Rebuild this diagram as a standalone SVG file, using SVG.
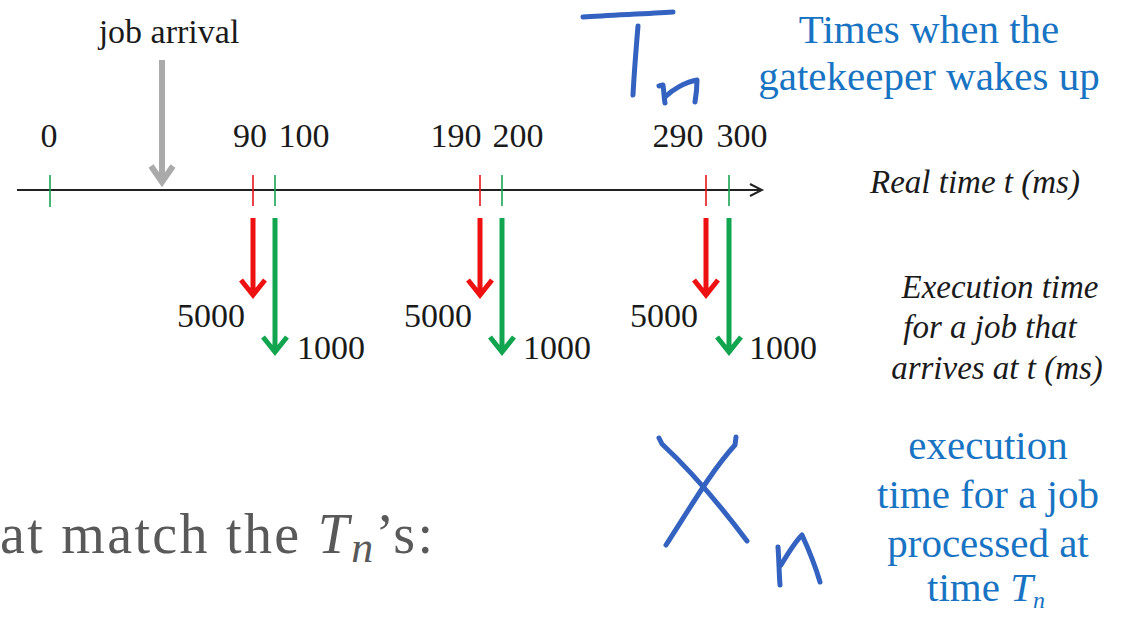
<svg xmlns="http://www.w3.org/2000/svg" width="1128" height="618" viewBox="0 0 1128 618">
<style>
.num{font-family:"Liberation Serif",serif;font-size:34px;fill:#1a1a1a}
.it{font-family:"Liberation Serif",serif;font-size:33px;font-style:italic;fill:#1a1a1a}
.blue{font-family:"Liberation Serif",serif;font-size:41px;fill:#1874c3}
.ink{fill:none;stroke:#3462c0;stroke-width:5;stroke-linecap:round;stroke-linejoin:round}
.tr{stroke:#e8141b;stroke-width:1.6}
.tg{stroke:#1aa352;stroke-width:1.6}
.ar{fill:none;stroke:#ee1111;stroke-width:5;stroke-linejoin:miter}
.ag{fill:none;stroke:#12a550;stroke-width:5;stroke-linejoin:miter}
</style>
<rect width="1128" height="618" fill="#ffffff"/>
<g id="axis">
<line x1="17" y1="190" x2="762" y2="190" stroke="#222" stroke-width="2"/>
<path d="M750,184 L762,190 L750,196" fill="none" stroke="#222" stroke-width="2"/>
</g>
<g id="ticks">
<line class="tg" x1="50" y1="175" x2="50" y2="207"/>
<line class="tr" x1="253" y1="175" x2="253" y2="206"/>
<line class="tg" x1="275" y1="175" x2="275" y2="206"/>
<line class="tr" x1="480" y1="175" x2="480" y2="206"/>
<line class="tg" x1="502" y1="175" x2="502" y2="206"/>
<line class="tr" x1="706" y1="175" x2="706" y2="206"/>
<line class="tg" x1="729" y1="175" x2="729" y2="206"/>
</g>
<g id="tick-labels">
<text class="num" x="49" y="147" text-anchor="middle">0</text>
<text class="num" x="250" y="147" text-anchor="middle">90</text>
<text class="num" x="304" y="147" text-anchor="middle">100</text>
<text class="num" x="456" y="147" text-anchor="middle">190</text>
<text class="num" x="518" y="147" text-anchor="middle">200</text>
<text class="num" x="678" y="147" text-anchor="middle">290</text>
<text class="num" x="742" y="147" text-anchor="middle">300</text>
</g>
<g id="job-arrival">
<text class="num" x="169" y="43" text-anchor="middle">job arrival</text>
<path d="M162,60 V182 M151,166 L162,182 L173,166" fill="none" stroke="#aaaaaa" stroke-width="6"/>
</g>
<g id="connectors">
<path class="ar" d="M253,218 V294 M241,280 L253,295 L265,280"/>
<path class="ag" d="M275,218 V351 M263,337 L275,352 L287,337"/>
<path class="ar" d="M480,218 V294 M468,280 L480,295 L492,280"/>
<path class="ag" d="M502,218 V351 M490,337 L502,352 L514,337"/>
<path class="ar" d="M706,218 V294 M694,280 L706,295 L718,280"/>
<path class="ag" d="M729,218 V351 M717,337 L729,352 L741,337"/>
</g>
<g id="exec-values">
<text class="num" x="211" y="327" text-anchor="middle">5000</text>
<text class="num" x="331" y="359" text-anchor="middle">1000</text>
<text class="num" x="438" y="327" text-anchor="middle">5000</text>
<text class="num" x="557" y="359" text-anchor="middle">1000</text>
<text class="num" x="664" y="327" text-anchor="middle">5000</text>
<text class="num" x="783" y="359" text-anchor="middle">1000</text>
</g>
<g id="real-time-label">
<text class="it" x="975" y="193" text-anchor="middle">Real time t (ms)</text>
</g>
<g id="exec-label">
<text class="it" x="1000" y="298" text-anchor="middle">Execution time</text>
<text class="it" x="990" y="338" text-anchor="middle">for a job that</text>
<text class="it" x="997" y="379" text-anchor="middle">arrives at t (ms)</text>
</g>
<g id="wake-label">
<text class="blue" x="929" y="43" text-anchor="middle">Times when the</text>
<text class="blue" x="929" y="90" text-anchor="middle">gatekeeper wakes up</text>
</g>
<g id="xn-label">
<text class="blue" x="988" y="459" text-anchor="middle">execution</text>
<text class="blue" x="988" y="508" text-anchor="middle">time for a job</text>
<text class="blue" x="988" y="557" text-anchor="middle">processed at</text>
<text class="blue" x="986" y="601" text-anchor="middle">time <tspan font-style="italic">T</tspan><tspan font-style="italic" font-size="24" dy="7">n</tspan></text>
</g>
<g id="bottom-text">
<text x="0" y="553" font-family="'Liberation Serif',serif" font-size="56" fill="#595959" textLength="433" lengthAdjust="spacing">at match the <tspan font-style="italic">T</tspan><tspan font-style="italic" font-size="44" dy="9">n</tspan><tspan dy="-9">’s:</tspan></text>
</g>
<g id="ink">
<path class="ink" d="M583,17 C610,15 645,14 673,12"/>
<path class="ink" d="M638,26 C636,50 634,75 633,95"/>
<path class="ink" d="M659,86 L663,85 C664,92 664,98 665,103"/>
<path class="ink" d="M665,97 C672,90 685,82 697,80 C697,88 696,96 695,102"/>
<path class="ink" d="M659,438 L662,444 C690,470 720,505 747,541"/>
<path class="ink" d="M736,437 L735,445 C712,470 690,508 666,545"/>
<path class="ink" d="M778,547 C779,560 779,572 780,585"/>
<path class="ink" d="M781,565 C787,555 795,542 802,535 C808,548 815,565 820,582"/>
</g>
</svg>
